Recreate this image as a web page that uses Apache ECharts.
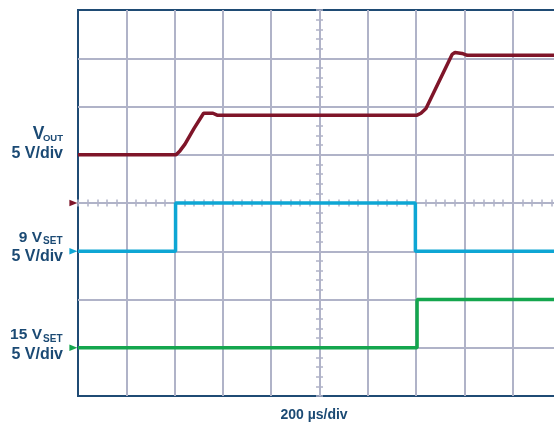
<!DOCTYPE html>
<html>
<head>
<meta charset="utf-8">
<script src="https://cdn.jsdelivr.net/npm/echarts@6/dist/echarts.min.js"></script>
<style>
  html, body { margin: 0; padding: 0; background: #ffffff; }
  #chart { width: 554px; height: 427px; }
</style>
</head>
<body>
<div id="chart"></div>
<script>
// Scope capture: time in µs (200 µs/div), channel voltages in V (5 V/div each)
const voutTime  = [0, 406, 422, 443, 480, 520, 559, 576, 1404, 1420, 1441, 1549, 1561, 1590, 1612, 2000];
const voutVolts = [5.0, 5.0, 5.4, 6.1, 7.7, 9.3, 9.3, 9.1, 9.1, 9.3, 9.8, 15.4, 15.6, 15.5, 15.3, 15.3];

const set9Time  = [0, 404, 404, 1397, 1397, 2000];
const set9Volts = [0, 0, 5, 5, 0, 0];

const set15Time  = [0, 1404, 1404, 2000];
const set15Volts = [0, 0, 5, 5];

// Screen: 10 horizontal x 8 vertical divisions
const timeSpan = 2000;      // µs across the screen
const voltsPerDiv = 5;
const vertDivs = 8;
// division (from bottom) where each channel's ground marker sits
const voutGroundDiv = 4, set9GroundDiv = 3, set15GroundDiv = 1;

const GRID_COLOR = '#b0b3c8';
const BORDER_COLOR = '#1f4b74';
const INK = '#1b4a74';
const RED = '#7f1529';
const BLUE = '#0ea6d4';
const GREEN = '#14a64e';
const FONT = '"Liberation Sans", Arial, sans-serif';

const pairs = (xs, ys) => xs.map((x, i) => [x, ys[i]]);

function channelAxis(groundDiv) {
  return {
    type: 'value', show: false,
    min: -groundDiv * voltsPerDiv,
    max: (vertDivs - groundDiv) * voltsPerDiv,
    axisLine: { onZero: false }
  };
}

// axes that carry the minor ticks along the two centre graticule lines
function centreTicks(inside, onZeroIdx, min, max) {
  return {
    type: 'value', min: min, max: max, interval: 1,
    axisLine: { show: false, onZero: true, onZeroAxisIndex: onZeroIdx },
    axisTick: { show: true, inside: inside, length: 3.5, lineStyle: { color: GRID_COLOR, width: 1.5 } },
    minorTick: { show: true, splitNumber: 5, length: 3.5, lineStyle: { color: GRID_COLOR, width: 1.5 } },
    axisLabel: { show: false },
    splitLine: { show: false }
  };
}

function groundMarker(color) {
  return {
    symbol: 'path://M0,0L10,5L0,10Z',
    symbolSize: [8, 6.5],
    symbolKeepAspect: false,
    symbolOffset: [-4.6, 0],
    itemStyle: { color: color },
    label: { show: false },
    data: [{ coord: [0, 0] }]
  };
}

function trace(name, xs, ys, axisIdx, color) {
  return {
    name: name, type: 'line', xAxisIndex: 0, yAxisIndex: axisIdx,
    data: pairs(xs, ys), showSymbol: false, clip: false,
    lineStyle: { color: color, width: 3.5 },
    itemStyle: { color: color },
    markPoint: groundMarker(color)
  };
}

const chart = echarts.init(document.getElementById('chart'), null, { renderer: 'canvas' });

const big = (size) => 'bold ' + size + 'px ' + FONT;

chart.setOption({
  animation: false,
  backgroundColor: '#ffffff',
  grid: {
    left: 78, top: 10, width: 483, height: 386,
    outerBoundsMode: 'none', containLabel: false,
    show: true, borderColor: BORDER_COLOR, borderWidth: 2, backgroundColor: 'transparent'
  },
  xAxis: [
    {
      type: 'value', min: 0, max: timeSpan, interval: timeSpan / 10,
      axisLine: { show: false, onZero: false }, axisTick: { show: false }, axisLabel: { show: false },
      splitLine: { show: true, showMinLine: false, showMaxLine: false, lineStyle: { color: GRID_COLOR, width: 2 } }
    },
    centreTicks(true, 0, -5, 5),
    centreTicks(false, 1, -5, 5)
  ],
  yAxis: [
    {
      type: 'value', min: -4, max: 4, interval: 1,
      axisLine: { show: false, onZero: false }, axisTick: { show: false }, axisLabel: { show: false },
      splitLine: { show: true, showMinLine: false, showMaxLine: false, lineStyle: { color: GRID_COLOR, width: 2 } }
    },
    centreTicks(true, 1, -4, 4),
    centreTicks(false, 2, -4, 4),
    channelAxis(voutGroundDiv),
    channelAxis(set9GroundDiv),
    channelAxis(set15GroundDiv)
  ],
  series: [
    trace('15 VSET', set15Time, set15Volts, 5, GREEN),
    trace('9 VSET', set9Time, set9Volts, 4, BLUE),
    trace('VOUT', voutTime, voutVolts, 3, RED)
  ],
  graphic: [
    // channel captions
    { type: 'text', style: { text: 'V', x: 44.3, y: 133.8, align: 'right', verticalAlign: 'middle', font: big(17.5), fill: INK } },
    { type: 'text', style: { text: 'OUT', x: 63, y: 138, align: 'right', verticalAlign: 'middle', font: big(9.5), fill: INK } },
    { type: 'text', style: { text: '5 V/div', x: 63, y: 153.5, align: 'right', verticalAlign: 'middle', font: big(16), fill: INK } },

    { type: 'text', style: { text: '9 V', x: 42, y: 237.5, align: 'right', verticalAlign: 'middle', font: big(15.5), fill: INK } },
    { type: 'text', style: { text: 'SET', x: 62.5, y: 241.5, align: 'right', verticalAlign: 'middle', font: big(10), fill: INK } },
    { type: 'text', style: { text: '5 V/div', x: 63, y: 257, align: 'right', verticalAlign: 'middle', font: big(16), fill: INK } },

    { type: 'text', style: { text: '15 V', x: 42, y: 334.7, align: 'right', verticalAlign: 'middle', font: big(15.5), fill: INK } },
    { type: 'text', style: { text: 'SET', x: 62.5, y: 339, align: 'right', verticalAlign: 'middle', font: big(10), fill: INK } },
    { type: 'text', style: { text: '5 V/div', x: 63, y: 354.5, align: 'right', verticalAlign: 'middle', font: big(16), fill: INK } },

    // time base
    { type: 'text', style: { text: '200 µs/div', x: 314, y: 415, align: 'center', verticalAlign: 'middle', font: big(14), fill: INK } }
  ]
});
</script>
</body>
</html>
